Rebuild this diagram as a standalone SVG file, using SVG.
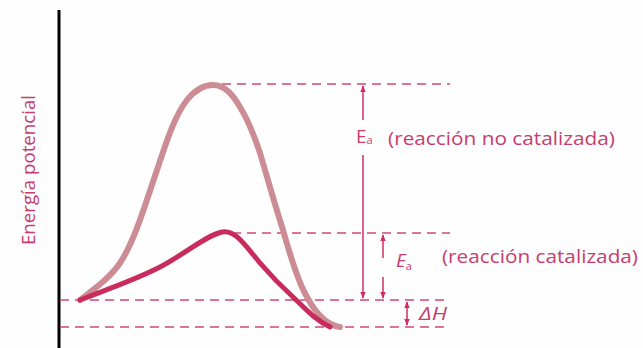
<svg xmlns="http://www.w3.org/2000/svg" width="643" height="348" viewBox="0 0 643 348">
<defs>
<style>
.t{font-family:"Open Sans","Liberation Sans",sans-serif;fill:#c83c6e;font-size:19px}
.d{stroke:#d4457a;stroke-width:1.5;stroke-dasharray:9 6;fill:none}
.a{stroke:#d02d66;stroke-width:1.5;fill:none}
</style>
<marker id="ah" viewBox="0 0 10 10" refX="9" refY="5" markerWidth="7" markerHeight="7" orient="auto-start-reverse" markerUnits="userSpaceOnUse"><path d="M0,1 L10,5 L0,9 z" fill="#d02d66"/></marker>
</defs>
<rect width="643" height="348" fill="#fdfefd"/>
<g id="axis"><line x1="59" y1="10" x2="59" y2="348" stroke="#000" stroke-width="3"/></g>
<g id="ylabel"><text class="t" transform="translate(35,170) rotate(-90)" text-anchor="middle" textLength="150" lengthAdjust="spacingAndGlyphs">Energía potencial</text></g>
<g id="guides">
<line class="d" x1="222" y1="84" x2="450" y2="84"/>
<line class="d" x1="232" y1="233" x2="450" y2="233"/>
<line class="d" x1="60" y1="300" x2="445" y2="300"/>
<line class="d" x1="60" y1="327" x2="445" y2="327"/>
</g>
<g id="uncatalyzed"><path d="M80,300 C93,290 110,278 120,263 C135,240 145,205 157,170 C167,140 175,115 187,100 C195,90 203,85 213,85 C225,85 233,95 240,107 C248,120 254,135 260,153 C268,180 275,205 283,230 C290,255 298,282 307,297 C315,312 325,325 340,327" fill="none" stroke="#cc8c94" stroke-width="6" stroke-linecap="round"/></g>
<g id="catalyzed"><path d="M80,300 C105,290 135,280 160,267 C185,254 205,236 222,232 C235,229 245,245 260,263 C272,277 282,287 293,297 C305,308 315,320 330,327" fill="none" stroke="#c92c5c" stroke-width="5" stroke-linecap="round"/></g>
<g id="connectors">
<line class="a" x1="363" y1="120" x2="363" y2="86" marker-end="url(#ah)"/>
<line class="a" x1="363" y1="155" x2="363" y2="298" marker-end="url(#ah)"/>
<line class="a" x1="383" y1="258" x2="383" y2="235" marker-end="url(#ah)"/>
<line class="a" x1="383" y1="277" x2="383" y2="298" marker-end="url(#ah)"/>
<line class="a" x1="407" y1="313" x2="407" y2="302" marker-end="url(#ah)"/>
<line class="a" x1="407" y1="313" x2="407" y2="325" marker-end="url(#ah)"/>
</g>
<g id="label-ea1"><text class="t" x="356" y="143" font-size="20">E<tspan font-size="11" dy="1">a</tspan></text>
<text class="t" x="388" y="145" textLength="227" lengthAdjust="spacingAndGlyphs">(reacción no catalizada)</text></g>
<g id="label-ea2"><text class="t" x="396" y="267" font-style="italic" font-size="20">E<tspan font-size="11" dy="3" font-style="normal">a</tspan></text>
<text class="t" x="442" y="263" textLength="196" lengthAdjust="spacingAndGlyphs">(reacción catalizada)</text></g>
<g id="label-dh"><text class="t" x="419" y="320" font-style="italic" font-size="18" textLength="28" lengthAdjust="spacingAndGlyphs">ΔH</text></g>
</svg>
